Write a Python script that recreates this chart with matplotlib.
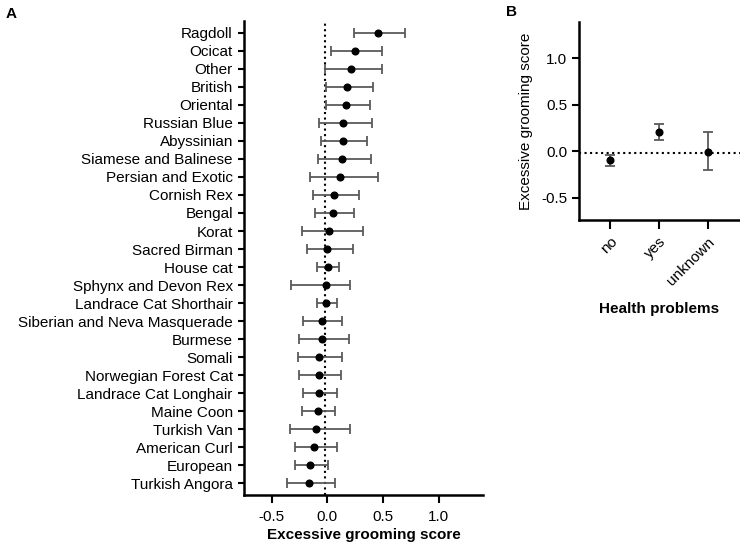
import matplotlib
matplotlib.use("Agg")
import matplotlib.pyplot as plt
import numpy as np

plt.rcParams['font.family'] = ['Liberation Sans', 'DejaVu Sans']

breeds = ["Ragdoll", "Ocicat", "Other", "British", "Oriental", "Russian Blue",
          "Abyssinian", "Siamese and Balinese", "Persian and Exotic", "Cornish Rex",
          "Bengal", "Korat", "Sacred Birman", "House cat", "Sphynx and Devon Rex",
          "Landrace Cat Shorthair", "Siberian and Neva Masquerade", "Burmese", "Somali",
          "Norwegian Forest Cat", "Landrace Cat Longhair", "Maine Coon", "Turkish Van",
          "American Curl", "European", "Turkish Angora"]
breed_est = [0.454, 0.252, 0.213, 0.180, 0.171, 0.141, 0.141, 0.132, 0.111, 0.060,
             0.051, 0.018, -0.003, 0.003, -0.009, -0.009, -0.048, -0.051, -0.078,
             -0.078, -0.078, -0.087, -0.099, -0.117, -0.159, -0.168]
breed_low = [0.243, 0.036, -0.021, -0.015, -0.009, -0.075, -0.060, -0.084, -0.153, -0.126,
             -0.111, -0.225, -0.186, -0.096, -0.324, -0.093, -0.216, -0.252, -0.264,
             -0.255, -0.216, -0.231, -0.336, -0.294, -0.288, -0.366]
breed_high = [0.694, 0.496, 0.496, 0.415, 0.385, 0.403, 0.361, 0.394, 0.454, 0.283,
              0.243, 0.324, 0.234, 0.102, 0.201, 0.087, 0.132, 0.192, 0.132,
              0.123, 0.084, 0.072, 0.201, 0.090, 0.003, 0.072]

health = ["no", "yes", "unknown"]
health_est = [-0.093, 0.211, -0.011]
health_low = [-0.154, 0.118, -0.204]
health_high = [-0.043, 0.297, 0.208]

ref_line = -0.018

fig = plt.figure(figsize=(7.4, 5.46), dpi=100)

err_col = '#5a5a5a'

# Panel A
axA = fig.add_axes([0.3297, 0.0934, 0.323, 0.868])
y = np.arange(len(breeds))
est = np.array(breed_est)
xerr = np.vstack([est - np.array(breed_low), np.array(breed_high) - est])
axA.errorbar(est, y, xerr=xerr, fmt='none', ecolor=err_col, elinewidth=1.3,
             capsize=3.5, capthick=1.3, zorder=2)
axA.plot(est, y, 'o', color='black', markersize=4.8, zorder=3)
axA.axvline(ref_line, color='black', linestyle=':', linewidth=1.5, zorder=1)
axA.set_ylim(len(breeds) - 0.35, -0.65)
axA.set_xlim(-0.75, 1.40)
axA.set_yticks(y)
axA.set_yticklabels(breeds)
axA.set_xticks([-0.5, 0.0, 0.5, 1.0])
axA.set_xticklabels(["-0.5", "0.0", "0.5", "1.0"])
axA.set_xlabel("Excessive grooming score", fontweight='bold', fontsize=11, labelpad=3.5)
for s in ['top', 'right']:
    axA.spines[s].set_visible(False)
for s in ['left', 'bottom']:
    axA.spines[s].set_linewidth(1.8)
axA.tick_params(axis='y', labelsize=11, width=1.5, length=4.5, color='black')
axA.tick_params(axis='x', labelsize=11, width=1.5, length=5.5, color='black', pad=5)

# Panel B
axB = fig.add_axes([0.7824, 0.597, 0.2176, 0.363])
xb = np.arange(len(health))
hest = np.array(health_est)
yerr = np.vstack([hest - np.array(health_low), np.array(health_high) - hest])
axB.errorbar(xb, hest, yerr=yerr, fmt='none', ecolor=err_col, elinewidth=1.3,
             capsize=3.5, capthick=1.3, zorder=2)
axB.plot(xb, hest, 'o', color='black', markersize=4.8, zorder=3)
axB.axhline(ref_line, color='black', linestyle=':', linewidth=1.5, zorder=1)
axB.set_xlim(-0.64, 2.66)
axB.set_ylim(-0.74, 1.39)
axB.set_xticks(xb)
axB.set_xticklabels(health, rotation=45, ha='right', rotation_mode='anchor')
axB.set_yticks([-0.5, 0.0, 0.5, 1.0])
axB.set_yticklabels(["-0.5", "0.0", "0.5", "1.0"])
axB.set_ylabel("Excessive grooming score", fontsize=11, labelpad=6)
axB.set_xlabel("Health problems", fontweight='bold', fontsize=11, labelpad=10)
for s in ['top', 'right']:
    axB.spines[s].set_visible(False)
for s in ['left', 'bottom']:
    axB.spines[s].set_linewidth(1.8)
axB.tick_params(axis='y', labelsize=11, width=1.5, length=5, color='black')
axB.tick_params(axis='x', labelsize=11, width=1.5, length=6.5, color='black', pad=4)

fig.text(0.008, 0.975, "A", fontweight='bold', fontsize=11, va='center', ha='left')
fig.text(0.684, 0.978, "B", fontweight='bold', fontsize=11, va='center', ha='left')

fig.savefig("out.png", dpi=100)
